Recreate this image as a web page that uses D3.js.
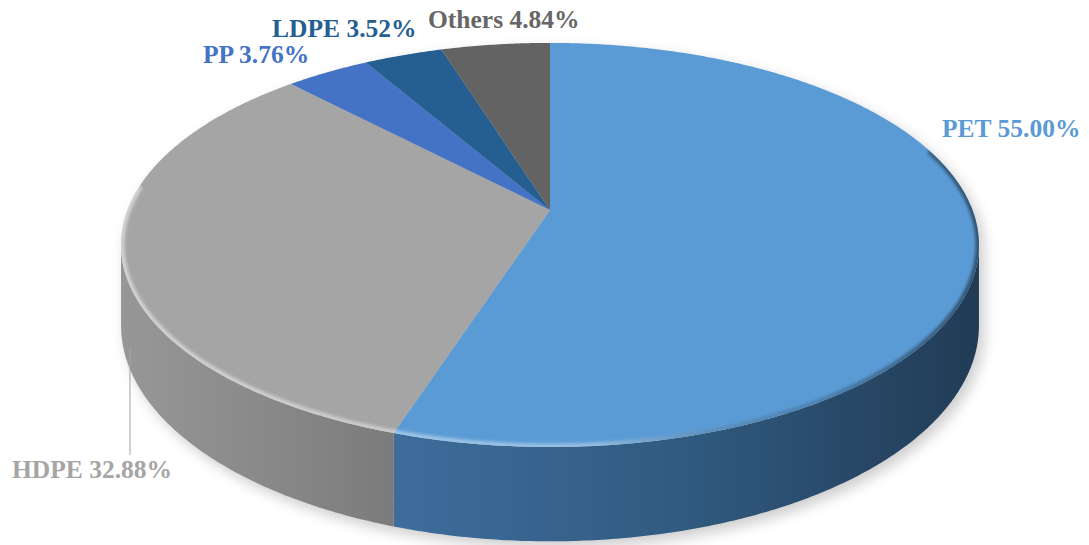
<!DOCTYPE html>
<html>
<head>
<meta charset="utf-8">
<script src="https://cdn.jsdelivr.net/npm/d3@7"></script>
<style>
  html, body { margin: 0; padding: 0; background: #fff; }
  svg { display: block; }
  text { font-family: "Liberation Serif", "DejaVu Serif", serif; font-weight: bold; }
</style>
</head>
<body>
<svg id="chart" width="1089" height="545"></svg>
<script>
// Plastic types and their share of the total (%)
const categories = ["PET", "HDPE", "PP", "LDPE", "Others"];
const shares = [55.00, 32.88, 3.76, 3.52, 4.84];
const topColors = ["#5B9BD5", "#A5A5A5", "#4472C4", "#255E91", "#636363"];
const labelColors = ["#5B9BD5", "#A5A5A5", "#4472C4", "#255E91", "#666666"];
const sideStops = [
  ["#3e6d9c", "#305a80", "#213b55"],
  ["#979797", "#8a8a8a", "#7b7b7b"],
  ["#34599a", "#2c4c85", "#243f70"],
  ["#1d4a72", "#183e60", "#12314d"],
  ["#4e4e4e", "#454545", "#3b3b3b"]
];

const svg = d3.select("#chart");
const defs = svg.append("defs");

// Perspective disc: hub point, scale, foreshortening and rim depth
const CX = 550, CY = 210, A = 422.5, B = 196, E = -0.173, H = 78;

function proj(theta, depth) {
  const u = Math.sin(theta), v = -Math.cos(theta);
  const den = 1 + E * v;
  return [CX + A * u / den, CY + B * v / den + (depth || 0) / den];
}

const pie = d3.pie().sort(null).value(d => d.value).startAngle(0).endAngle(2 * Math.PI);
const arcs = pie(categories.map((c, i) => ({ name: c, value: shares[i], i })));

const line = d3.line();
const STEP = Math.PI / 360;

function arcPoints(a0, a1, depth) {
  const pts = [];
  const n = Math.max(2, Math.ceil((a1 - a0) / STEP));
  for (let k = 0; k <= n; k++) pts.push(proj(a0 + (a1 - a0) * k / n, depth));
  return pts;
}

// Front-facing range of the rim (between the silhouette's left/right extremes)
const frontStart = Math.acos(E);
const frontEnd = 2 * Math.PI - Math.acos(E);

// Soft drop shadow under the disc
const shadow = defs.append("filter").attr("id", "shadow")
  .attr("x", "-10%").attr("y", "-10%").attr("width", "120%").attr("height", "130%");
shadow.append("feGaussianBlur").attr("in", "SourceGraphic").attr("stdDeviation", 7);

const blur = defs.append("filter").attr("id", "soft")
  .attr("x", "-5%").attr("y", "-5%").attr("width", "110%").attr("height", "110%");
blur.append("feGaussianBlur").attr("stdDeviation", 1.6);

const silhouette = arcPoints(frontStart, frontEnd, H)
  .concat(arcPoints(frontEnd, frontStart + 2 * Math.PI, 0));
svg.append("path")
  .attr("d", line(silhouette) + "Z")
  .attr("transform", "translate(5,6)")
  .attr("fill", "#000")
  .attr("opacity", 0.2)
  .attr("filter", "url(#shadow)");

// Rim sides
const sideG = svg.append("g");
arcs.forEach(a => {
  const s = Math.max(a.startAngle, frontStart);
  const e = Math.min(a.endAngle, frontEnd);
  if (e <= s) return;
  const top = arcPoints(s, e, 0);
  const bot = arcPoints(s, e, H).reverse();
  const id = "side" + a.data.i;
  const x0 = d3.min(top, p => p[0]), x1 = d3.max(top, p => p[0]);
  const g = defs.append("linearGradient").attr("id", id)
    .attr("gradientUnits", "userSpaceOnUse")
    .attr("x1", x0).attr("x2", x1).attr("y1", 0).attr("y2", 0);
  sideStops[a.data.i].forEach((c, k) => g.append("stop").attr("offset", k / 2).attr("stop-color", c));
  sideG.append("path")
    .attr("d", line(top.concat(bot)) + "Z")
    .attr("fill", `url(#${id})`);
});

// Top faces
const topG = svg.append("g");
arcs.forEach(a => {
  const pts = [[CX, CY]].concat(arcPoints(a.startAngle, a.endAngle, 0));
  topG.append("path")
    .attr("d", line(pts) + "Z")
    .attr("fill", topColors[a.data.i]);
});

// Bevel along the top edge: light on the left/front, dark on the right
const clip = defs.append("clipPath").attr("id", "topClip");
clip.append("path").attr("d", line(arcPoints(0, 2 * Math.PI, 0)) + "Z");
const bevel = defs.append("linearGradient").attr("id", "bevel")
  .attr("gradientUnits", "userSpaceOnUse")
  .attr("x1", CX - A).attr("x2", CX + A).attr("y1", 0).attr("y2", 0);
bevel.append("stop").attr("offset", 0).attr("stop-color", "#fff").attr("stop-opacity", 0.5);
bevel.append("stop").attr("offset", 0.55).attr("stop-color", "#fff").attr("stop-opacity", 0.35);
bevel.append("stop").attr("offset", 0.8).attr("stop-color", "#000").attr("stop-opacity", 0.15);
bevel.append("stop").attr("offset", 1).attr("stop-color", "#000").attr("stop-opacity", 0.45);
svg.append("g").attr("clip-path", "url(#topClip)")
  .append("path")
  .attr("d", line(arcPoints(frontStart - 0.5, frontEnd + 0.3, 0)))
  .attr("fill", "none")
  .attr("stroke", "url(#bevel)")
  .attr("stroke-width", 7)
  .attr("filter", "url(#soft)");

// Labels
const labelPos = [[942, 137], [12, 478], [203, 63], [272, 37], [428, 28]];
svg.append("line")
  .attr("x1", 130).attr("x2", 130).attr("y1", 348).attr("y2", 455)
  .attr("stroke", "#A5A5A5").attr("stroke-width", 1);
svg.append("g").selectAll("text")
  .data(arcs)
  .join("text")
  .attr("x", d => labelPos[d.data.i][0])
  .attr("y", d => labelPos[d.data.i][1])
  .attr("fill", d => labelColors[d.data.i])
  .attr("font-size", 25.5)
  .text(d => `${d.data.name} ${d.data.value.toFixed(2)}%`);
</script>
</body>
</html>
